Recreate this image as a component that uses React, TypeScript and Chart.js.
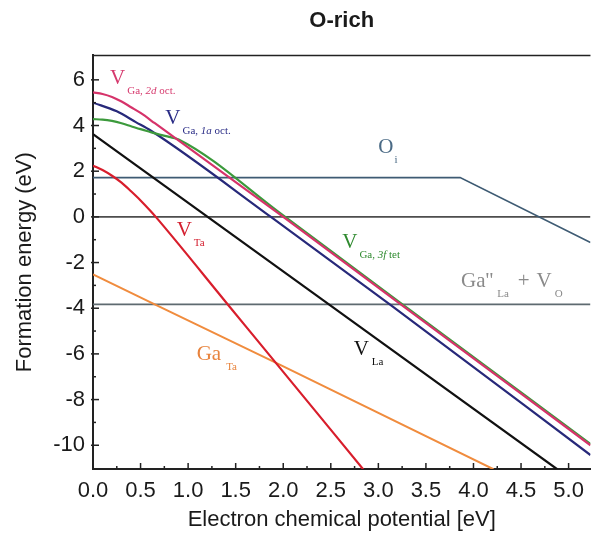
import { useEffect, useRef } from "react";
import { Chart, registerables } from "chart.js";

Chart.register(...registerables);

// ---- axes ----
const X_MIN = 0;
const X_MAX = 5.23;
const Y_MIN = -11.04;
const Y_MAX = 7.07;
const X_TICKS = [0, 0.5, 1, 1.5, 2, 2.5, 3, 3.5, 4, 4.5, 5];
const X_MINOR = [0.25, 0.75, 1.25, 1.75, 2.25, 2.75, 3.25, 3.75, 4.25, 4.75];
const Y_TICKS = [-10, -8, -6, -4, -2, 0, 2, 4, 6];
const Y_MINOR = [-9, -7, -5, -3, -1, 1, 3, 5];

// ---- series (electron chemical potential -> formation energy) ----
const VGA2D_X = [0, 0.1, 0.2, 0.3, 0.4, 0.5, 0.65, 2.0, 3.2, 5.23];
const VGA2D_Y = [5.45, 5.38, 5.25, 5.05, 4.8, 4.55, 4.1, 0, -3.72, -10.0];

const VGA3F_X = [0, 0.1, 0.2, 0.3, 0.4, 0.5, 0.6, 0.7, 0.8, 0.9, 2.0, 3.2, 5.23];
const VGA3F_Y = [4.28, 4.26, 4.2, 4.1, 3.97, 3.84, 3.72, 3.6, 3.5, 3.39, 0.06, -3.67, -9.94];

const VGA1A_X = [0, 0.25, 0.45, 0.61, 1.87, 3.12, 5.23];
const VGA1A_Y = [5.0, 4.62, 4.15, 3.77, 0, -3.83, -10.43];

const VLA_X = [0, 2.48, 4.88];
const VLA_Y = [3.62, -3.83, -11.05];

const VTA_X = [0, 0.1, 0.2, 0.3, 0.4, 0.5, 0.6, 0.66, 1.43, 1.92, 2.84];
const VTA_Y = [2.24, 2.05, 1.8, 1.5, 1.12, 0.72, 0.28, 0, -3.9, -6.38, -11.05];

const GATA_X = [0, 0.66, 1.92, 4.21];
const GATA_Y = [-2.52, -3.85, -6.38, -11.05];

const OI_X = [0, 3.86, 5.23];
const OI_Y = [1.72, 1.72, -1.12];

const ZERO_X = [0, 5.23];
const ZERO_Y = [0, 0];

const GALA_VO_X = [0, 5.23];
const GALA_VO_Y = [-3.83, -3.83];

const pts = (xs: number[], ys: number[]) => xs.map((x, i) => ({ x, y: ys[i] }));

const SANS = "'Liberation Sans', Arial, Helvetica, sans-serif";
const SERIF = "'Liberation Serif', 'Times New Roman', serif";

type Part = { t: string; sub?: boolean; italic?: boolean; gap?: number };
type Label = { x: number; y: number; color: string; parts: Part[] };

const LABELS: Label[] = [
  {
    x: 0.18, y: 5.83, color: "#d63a6e",
    parts: [{ t: "V" }, { t: "Ga, ", sub: true, gap: 2 }, { t: "2d", sub: true, italic: true }, { t: " oct.", sub: true }],
  },
  {
    x: 0.76, y: 4.08, color: "#2a2c86",
    parts: [{ t: "V" }, { t: "Ga, ", sub: true, gap: 2 }, { t: "1a", sub: true, italic: true }, { t: " oct.", sub: true }],
  },
  {
    x: 3.0, y: 2.81, color: "#4a6a85",
    parts: [{ t: "O" }, { t: "i", sub: true, gap: 1 }],
  },
  {
    x: 2.62, y: -1.35, color: "#2f8a2f",
    parts: [{ t: "V" }, { t: "Ga, ", sub: true, gap: 2 }, { t: "3f", sub: true, italic: true }, { t: " tet", sub: true }],
  },
  {
    x: 3.87, y: -3.09, color: "#8a8a8a",
    parts: [{ t: "Ga''" }, { t: "La", sub: true, gap: 4 }, { t: "+", gap: 9 }, { t: "V", gap: 7 }, { t: "O", sub: true, gap: 3 }],
  },
  {
    x: 0.88, y: -0.82, color: "#d42030",
    parts: [{ t: "V" }, { t: "Ta", sub: true, gap: 2 }],
  },
  {
    x: 1.09, y: -6.28, color: "#e8843e",
    parts: [{ t: "Ga" }, { t: "Ta", sub: true, gap: 5 }],
  },
  {
    x: 2.74, y: -6.07, color: "#111111",
    parts: [{ t: "V" }, { t: "La", sub: true, gap: 3 }],
  },
];

const framePlugin = {
  id: "frameTicks",
  afterDraw(chart: any) {
    const { ctx, chartArea } = chart;
    const xs = chart.scales.x;
    const ys = chart.scales.y;
    ctx.save();
    ctx.strokeStyle = "#222";
    ctx.lineWidth = 1.5;
    ctx.beginPath();
    ctx.moveTo(chartArea.left, chartArea.top);
    ctx.lineTo(chartArea.right, chartArea.top);
    ctx.stroke();
    const drawX = (vals: number[], len: number) => {
      vals.forEach((v) => {
        const p = xs.getPixelForValue(v);
        ctx.beginPath();
        ctx.moveTo(p, chartArea.bottom);
        ctx.lineTo(p, chartArea.bottom - len);
        ctx.stroke();
      });
    };
    const drawY = (vals: number[], len: number, out: number) => {
      vals.forEach((v) => {
        const p = ys.getPixelForValue(v);
        ctx.beginPath();
        ctx.moveTo(chartArea.left - out, p);
        ctx.lineTo(chartArea.left + len, p);
        ctx.stroke();
      });
    };
    drawX(X_TICKS, 6);
    drawX(X_MINOR, 3);
    drawY(Y_TICKS, 6, 2);
    drawY(Y_MINOR, 3, 0);
    ctx.restore();
  },
};

const labelPlugin = {
  id: "seriesLabels",
  afterDatasetsDraw(chart: any) {
    const { ctx } = chart;
    const xs = chart.scales.x;
    const ys = chart.scales.y;
    ctx.save();
    ctx.textBaseline = "alphabetic";
    ctx.textAlign = "left";
    LABELS.forEach((l) => {
      let px = xs.getPixelForValue(l.x);
      const py = ys.getPixelForValue(l.y);
      ctx.fillStyle = l.color;
      l.parts.forEach((p) => {
        px += p.gap || 0;
        const size = p.sub ? 11 : 21;
        ctx.font = `${p.italic ? "italic " : ""}${size}px ${SERIF}`;
        ctx.fillText(p.t, px, p.sub ? py + 10 : py);
        px += ctx.measureText(p.t).width;
      });
    });
    ctx.restore();
  },
};

export default function App() {
  const ref = useRef<HTMLCanvasElement | null>(null);

  useEffect(() => {
    if (!ref.current) return;
    const line = (data: any[], color: string, width: number, curved: boolean) => ({
      data,
      borderColor: color,
      backgroundColor: color,
      borderWidth: width,
      pointRadius: 0,
      fill: false,
      showLine: true,
      cubicInterpolationMode: curved ? ("monotone" as const) : ("default" as const),
      tension: 0,
    });
    const chart = new Chart(ref.current, {
      type: "line",
      data: {
        datasets: [
          { label: "V Ga, 2d oct.", ...line(pts(VGA2D_X, VGA2D_Y), "#d6336a", 2.2, true) },
          { label: "V Ga, 3f tet", ...line(pts(VGA3F_X, VGA3F_Y), "#3c9a3c", 2.2, true) },
          { label: "V Ga, 1a oct.", ...line(pts(VGA1A_X, VGA1A_Y), "#27297a", 2.2, true) },
          { label: "V La", ...line(pts(VLA_X, VLA_Y), "#111111", 2.2, false) },
          { label: "V Ta", ...line(pts(VTA_X, VTA_Y), "#d81e2c", 2.2, true) },
          { label: "Ga Ta", ...line(pts(GATA_X, GATA_Y), "#f08c3e", 2.0, false) },
          { label: "O i", ...line(pts(OI_X, OI_Y), "#3e5b73", 1.6, false) },
          { label: "zero", ...line(pts(ZERO_X, ZERO_Y), "#4d4d4d", 1.6, false) },
          { label: "Ga''La + VO", ...line(pts(GALA_VO_X, GALA_VO_Y), "#5e6a70", 1.6, false) },
        ],
      },
      options: {
        responsive: false,
        animation: false,
        layout: { padding: 0 },
        plugins: {
          legend: { display: false },
          tooltip: { enabled: false },
          title: {
            display: true,
            text: "O-rich",
            fullSize: false,
            color: "#1a1a1a",
            font: { family: SANS, size: 22, weight: "bold" },
            padding: { top: 8, bottom: 21 },
          },
        },
        scales: {
          x: {
            type: "linear",
            min: X_MIN,
            max: X_MAX,
            afterBuildTicks: (s: any) => {
              s.ticks = X_TICKS.map((v) => ({ value: v }));
            },
            afterFit: (s: any) => {
              s.height = 68;
            },
            ticks: {
              autoSkip: false,
              maxRotation: 0,
              color: "#1a1a1a",
              font: { family: SANS, size: 22 },
              padding: 9,
              callback: (v: any) => Number(v).toFixed(1),
            },
            grid: { display: false, drawTicks: false },
            border: { display: true, color: "#222", width: 2 },
            title: {
              display: true,
              text: "Electron chemical potential [eV]",
              color: "#1a1a1a",
              font: { family: SANS, size: 22 },
              padding: { top: 0, bottom: 4 },
            },
          },
          y: {
            type: "linear",
            min: Y_MIN,
            max: Y_MAX,
            afterBuildTicks: (s: any) => {
              s.ticks = Y_TICKS.map((v) => ({ value: v }));
            },
            afterFit: (s: any) => {
              s.width = 93;
            },
            ticks: {
              autoSkip: false,
              color: "#1a1a1a",
              font: { family: SANS, size: 22 },
              padding: 8,
              callback: (v: any) => String(v),
            },
            grid: { display: false, drawTicks: false },
            border: { display: true, color: "#222", width: 2 },
            title: {
              display: true,
              text: "Formation energy (eV)",
              color: "#1a1a1a",
              font: { family: SANS, size: 22 },
              padding: { top: 12, bottom: 0 },
            },
          },
        },
      },
      plugins: [framePlugin, labelPlugin],
    });
    return () => chart.destroy();
  }, []);

  return (
    <div style={{ position: "absolute", left: 0, top: 0, width: 593, height: 537, background: "#fff" }}>
      <canvas ref={ref} width={593} height={537} style={{ display: "block" }} />
    </div>
  );
}
